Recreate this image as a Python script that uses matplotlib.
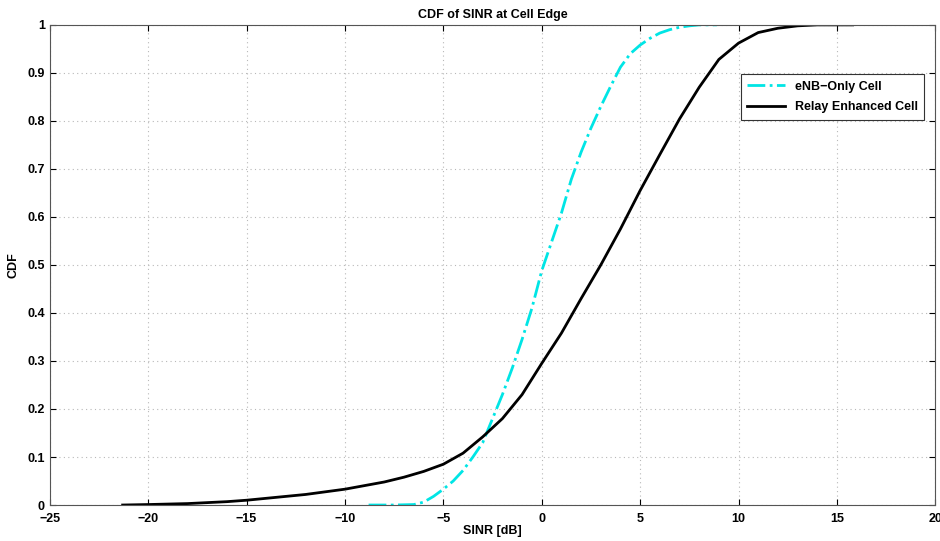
import matplotlib
matplotlib.use("Agg")
import matplotlib.pyplot as plt

# eNB-only cell
sinr_enb = [-8.8, -7.5, -6.5, -6.0, -5.5, -5.0, -4.5, -4.0, -3.5, -3.0, -2.5, -2.0, -1.5,
            -1.0, -0.5, 0.0, 0.5, 1.0, 1.5, 2.0, 2.5, 3.0, 3.5, 4.0, 4.5, 5.0, 5.5,
            6.0, 6.5, 7.0, 7.5, 8.0, 8.9]
cdf_enb = [0.0, 0.0, 0.001, 0.006, 0.018, 0.033, 0.05, 0.072, 0.1, 0.13, 0.18, 0.23, 0.285,
           0.345, 0.41, 0.488, 0.548, 0.608, 0.678, 0.735, 0.785, 0.83, 0.872, 0.912, 0.94, 0.958,
           0.972, 0.983, 0.99, 0.995, 0.998, 1.0, 1.0]

# relay enhanced cell
sinr_relay = [-21.3, -20, -18, -16, -15, -14, -12, -10, -8, -7, -6, -5, -4, -3, -2, -1,
              0, 1, 2, 3, 4, 5, 6, 7, 8, 9, 10, 11, 12, 13, 14, 15.8]
cdf_relay = [0.0, 0.001, 0.003, 0.007, 0.01, 0.014, 0.022, 0.033, 0.048, 0.058, 0.07, 0.085,
             0.108, 0.142, 0.18, 0.23, 0.295, 0.358, 0.43, 0.5, 0.575, 0.655, 0.73, 0.804,
             0.87, 0.928, 0.962, 0.984, 0.993, 0.998, 1.0, 1.0]

plt.rcParams['font.family'] = ['Liberation Sans', 'DejaVu Sans']
plt.rcParams['font.weight'] = 'bold'

fig = plt.figure(figsize=(9.4, 5.41), dpi=100)
ax = fig.add_axes([0.053, 0.0665, 0.942, 0.8875])

ax.plot(sinr_enb, cdf_enb, '-.', color='#00e5e5', linewidth=2, label='eNB\u2212Only Cell')
ax.plot(sinr_relay, cdf_relay, '-', color='black', linewidth=2, label='Relay Enhanced Cell')

ax.set_xlim(-25, 20)
ax.set_ylim(0, 1)
ax.set_xticks(range(-25, 21, 5))
ax.set_xticklabels([str(v).replace('-', '\u2212') for v in range(-25, 21, 5)])
ax.set_yticks([i / 10 for i in range(11)])
ax.set_yticklabels(['0', '0.1', '0.2', '0.3', '0.4', '0.5', '0.6', '0.7', '0.8', '0.9', '1'])
ax.tick_params(direction='in', top=True, right=True, labelsize=9, length=4)
ax.tick_params(axis='x', pad=6)
ax.grid(True, linestyle=(0, (1, 3)), color='#b8b8b8', linewidth=0.8)
for s in ax.spines.values():
    s.set_color('#555555')
    s.set_linewidth(0.8)

ax.set_title('CDF of SINR at Cell Edge', fontsize=9, fontweight='bold', pad=5)
ax.set_xlabel('SINR [dB]', fontsize=9, fontweight='bold', labelpad=0)
ax.set_ylabel('CDF', fontsize=9, fontweight='bold', labelpad=6)

leg = ax.legend(loc='upper right', bbox_to_anchor=(0.987, 0.897), borderaxespad=0,
                fontsize=9, fancybox=False, framealpha=1, edgecolor='#333333',
                handlelength=3, borderpad=0.5, labelspacing=0.7)
leg.get_frame().set_linewidth(0.8)

fig.savefig('out.png', dpi=100)
